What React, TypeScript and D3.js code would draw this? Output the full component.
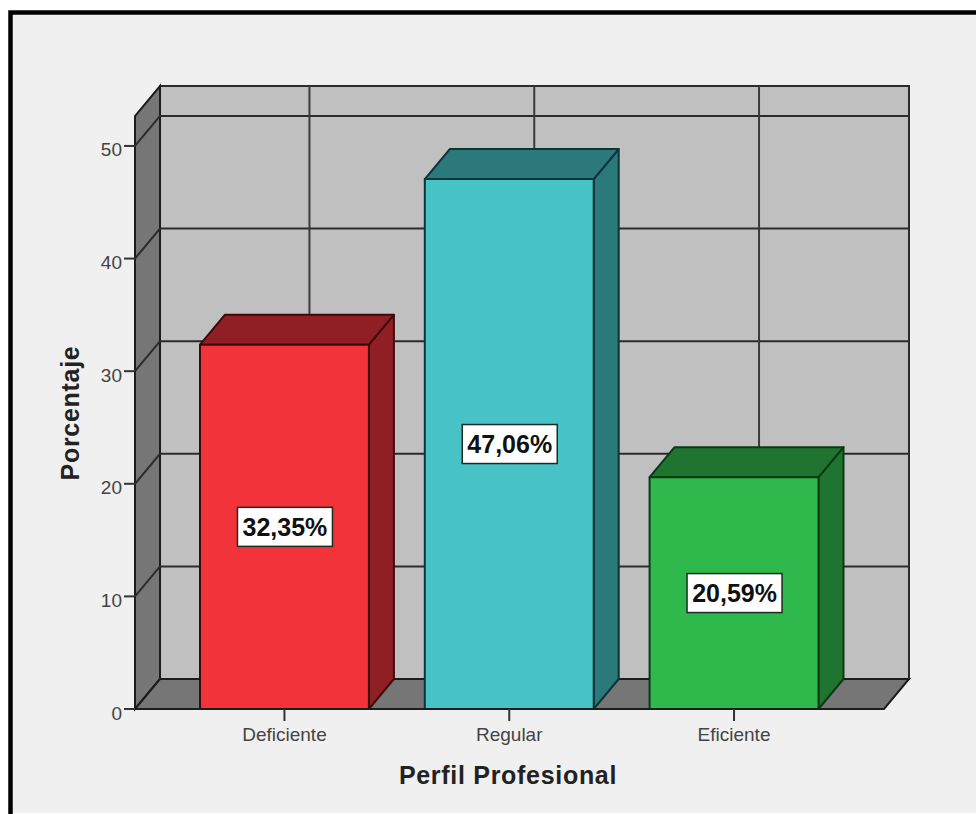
import React from "react";
import * as d3 from "d3";

const categories = ["Deficiente", "Regular", "Eficiente"];
const percentages = [32.35, 47.06, 20.59];
const valueLabels = ["32,35%", "47,06%", "20,59%"];
const yTicks = [0, 10, 20, 30, 40, 50];
const frontColors = ["#f2333a", "#47c3c8", "#2fb84c"];
const sideColors = ["#8f1f24", "#2c797c", "#1f7430"];
const barEdges = ["#3d0a0c", "#0c3436", "#0a3a14"];
const yMax = 52.66;

const W = 976;
const H = 814;
const DX = 25;
const DY = -30;
const FRONT_LEFT = 135;
const FRONT_RIGHT = 884;
const FONT = "'Liberation Sans', Arial, sans-serif";

const y = d3.scaleLinear().domain([0, yMax]).range([709, 116]);
const x = d3
  .scaleBand<string>()
  .domain(categories)
  .range([200, 818.5])
  .paddingInner(0.2486)
  .paddingOuter(0);

// Closed polygon through the given corners.
const poly = (pts: [number, number][]) => (d3.line()(pts) as string) + "Z";

export default function App() {
  const floorY = y(0);
  const topY = y(yMax);
  const bw = x.bandwidth();
  const tickX = (c: string) => (x(c) as number) + bw / 2;

  return (
    <svg
      width={W}
      height={H}
      viewBox={`0 0 ${W} ${H}`}
      style={{ position: "absolute", left: 0, top: 0, fontFamily: FONT }}
    >
      <rect x={0} y={0} width={W} height={H} fill="#ffffff" />
      <rect x={10} y={12} width={W} height={H - 13} fill="#f0f0f0" />
      {/* Outer frame: top and left edges */}
      <path d={`M10.5 ${H} V12.5 H${W}`} fill="none" stroke="#000" strokeWidth={4.5} />

      {/* Back wall */}
      <rect
        x={FRONT_LEFT + DX}
        y={topY + DY}
        width={FRONT_RIGHT - FRONT_LEFT}
        height={floorY - topY}
        fill="#c0c0c0"
        stroke="#2b2b2b"
        strokeWidth={2}
      />
      {/* Left wall */}
      <path
        d={poly([
          [FRONT_LEFT, floorY],
          [FRONT_LEFT, topY],
          [FRONT_LEFT + DX, topY + DY],
          [FRONT_LEFT + DX, floorY + DY],
        ])}
        fill="#767676"
        stroke="#1c1c1c"
        strokeWidth={2}
      />
      {/* Floor */}
      <path
        d={poly([
          [FRONT_LEFT, floorY],
          [FRONT_LEFT + DX, floorY + DY],
          [FRONT_RIGHT + DX, floorY + DY],
          [FRONT_RIGHT, floorY],
        ])}
        fill="#767676"
        stroke="#1c1c1c"
        strokeWidth={2}
      />

      {/* Gridlines wrapping left wall and back wall */}
      {yTicks.slice(1).map((t) => (
        <path
          key={t}
          d={`M${FRONT_LEFT} ${y(t)} L${FRONT_LEFT + DX} ${y(t) + DY} H${FRONT_RIGHT + DX}`}
          fill="none"
          stroke="#2b2b2b"
          strokeWidth={2}
        />
      ))}
      {categories.map((c) => (
        <line
          key={c}
          x1={tickX(c) + DX}
          x2={tickX(c) + DX}
          y1={topY + DY}
          y2={floorY + DY}
          stroke="#3a3a3a"
          strokeWidth={2}
        />
      ))}

      {/* Bars: side, top, front */}
      {categories.map((c, i) => {
        const l = x(c) as number;
        const r = l + bw;
        const t = y(percentages[i]);
        return (
          <g key={c} stroke={barEdges[i]} strokeWidth={2} strokeLinejoin="round">
            <path
              d={poly([
                [r, floorY],
                [r, t],
                [r + DX, t + DY],
                [r + DX, floorY + DY],
              ])}
              fill={sideColors[i]}
            />
            <path
              d={poly([
                [l, t],
                [l + DX, t + DY],
                [r + DX, t + DY],
                [r, t],
              ])}
              fill={sideColors[i]}
            />
            <rect x={l} y={t} width={bw} height={floorY - t} fill={frontColors[i]} />
          </g>
        );
      })}

      {/* Value labels centred on each bar face */}
      {categories.map((c, i) => {
        const cy = (y(percentages[i]) + floorY) / 2;
        return (
          <g key={c}>
            <rect
              x={tickX(c) - 47}
              y={cy - 19.5}
              width={95}
              height={39}
              fill="#ffffff"
              stroke="#1f2a22"
              strokeWidth={1.5}
            />
            <text
              x={tickX(c) + 0.5}
              y={cy + 9}
              textAnchor="middle"
              fontSize={25}
              fontWeight="bold"
              fill="#111"
            >
              {valueLabels[i]}
            </text>
          </g>
        );
      })}

      {/* Y axis */}
      {yTicks.map((t) => (
        <g key={t}>
          <line
            x1={FRONT_LEFT - 11}
            x2={FRONT_LEFT}
            y1={y(t)}
            y2={y(t)}
            stroke="#333"
            strokeWidth={2}
          />
          <text
            x={FRONT_LEFT - 13}
            y={y(t) + 10.5}
            textAnchor="end"
            fontSize={19}
            fill="#444"
          >
            {t}
          </text>
        </g>
      ))}

      {/* X axis */}
      <line x1={FRONT_LEFT} x2={FRONT_RIGHT} y1={floorY} y2={floorY} stroke="#1c1c1c" strokeWidth={2} />
      {categories.map((c) => (
        <g key={c}>
          <line
            x1={tickX(c)}
            x2={tickX(c)}
            y1={floorY}
            y2={floorY + 12}
            stroke="#333"
            strokeWidth={2}
          />
          <text x={tickX(c)} y={floorY + 32} textAnchor="middle" fontSize={19} fill="#444">
            {c}
          </text>
        </g>
      ))}

      {/* Axis titles */}
      <text
        x={508}
        y={784}
        textAnchor="middle"
        fontSize={25}
        fontWeight="bold"
        letterSpacing={0.7}
        fill="#222"
      >
        Perfil Profesional
      </text>
      <text
        transform="translate(79 413) rotate(-90)"
        textAnchor="middle"
        fontSize={25}
        fontWeight="bold"
        letterSpacing={0.7}
        fill="#222"
      >
        Porcentaje
      </text>
    </svg>
  );
}
